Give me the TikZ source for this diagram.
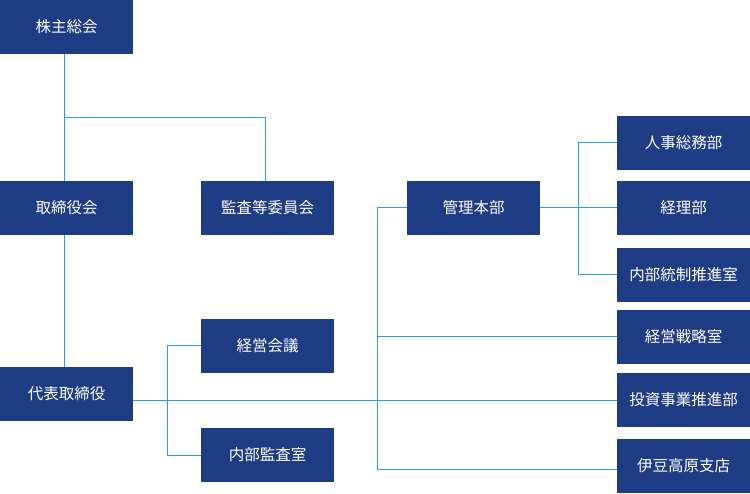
\documentclass[tikz,border=0pt]{standalone}
\usepackage{fontspec}
\newfontfamily\jp{Noto Sans CJK JP}
\definecolor{boxblue}{HTML}{1D3C84}
\definecolor{lineblue}{HTML}{2A9FE8}
\begin{document}
\begin{tikzpicture}[x=1pt,y=-1pt,
  box/.style={fill=boxblue, text=white, minimum width=133pt, minimum height=54pt, inner sep=0pt, font=\jp\fontsize{15.5}{15.5}\selectfont},
  conn/.style={draw=lineblue, line width=1pt}]
\useasboundingbox (0,0) rectangle (750,494);
\node[box] (kabu) at (66.5,27) {株主総会};
\node[box] (tori) at (66.5,208) {取締役会};
\node[box] (kansa) at (267.5,208) {監査等委員会};
\node[box] (daihyo) at (66.5,394) {代表取締役};
\node[box] (keiei) at (267.5,346) {経営会議};
\node[box] (naibu) at (267.5,455) {内部監査室};
\node[box] (kanri) at (473.5,208) {管理本部};
\node[box] (jinji) at (683.5,143) {人事総務部};
\node[box] (keiri) at (683.5,208) {経理部};
\node[box] (tousei) at (683.5,275) {内部統制推進室};
\node[box] (senryaku) at (683.5,337) {経営戦略室};
\node[box] (toushi) at (683.5,400) {投資事業推進部};
\node[box] (izu) at (683.5,466) {伊豆高原支店};
\coordinate (j1) at (64.5,117.5);
\coordinate (v1) at (167,0);
\coordinate (v2) at (377.3,0);
\coordinate (v3) at (578.3,0);
\draw[conn] ([xshift=-2pt]kabu.south) -- ([xshift=-2pt]tori.north);
\draw[conn] (j1) -| ([xshift=-2pt]kansa.north);
\draw[conn] ([xshift=-2pt]tori.south) -- ([xshift=-2pt]daihyo.north);
\draw[conn] (daihyo.east |- toushi.west) -- (toushi.west);
\draw[conn] (keiei.west) -- (keiei.west -| v1) -- (naibu.west -| v1) -- (naibu.west);
\draw[conn] (kanri.west) -- (kanri.west -| v2) -- ([yshift=-3pt]izu.west -| v2) -- ([yshift=-3pt]izu.west);
\draw[conn] (senryaku.west -| v2) -- (senryaku.west);
\draw[conn] (kanri.east) -- (keiri.west);
\draw[conn] (jinji.west) -- (jinji.west -| v3) -- (tousei.west -| v3) -- (tousei.west);
\end{tikzpicture}
\end{document}
